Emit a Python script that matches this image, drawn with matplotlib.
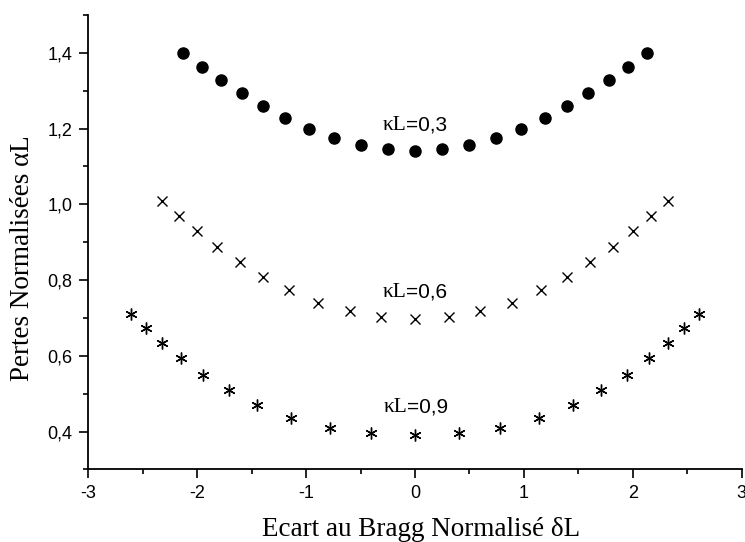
import numpy as np
import matplotlib
matplotlib.use('Agg')
import matplotlib.pyplot as plt
from matplotlib.ticker import MultipleLocator, FixedLocator

# kL = 0.3 (dots)
x_03 = [-2.13, -1.96, -1.78, -1.59, -1.40, -1.19, -0.97, -0.74, -0.50, -0.25, 0.0,
        0.25, 0.50, 0.74, 0.97, 1.19, 1.40, 1.59, 1.78, 1.96, 2.13]
y_03 = [1.400, 1.363, 1.329, 1.293, 1.259, 1.227, 1.198, 1.175, 1.157, 1.146, 1.140,
        1.146, 1.157, 1.175, 1.198, 1.227, 1.259, 1.293, 1.329, 1.363, 1.400]

# kL = 0.6 (crosses)
x_06 = [-2.32, -2.17, -2.00, -1.82, -1.61, -1.40, -1.16, -0.89, -0.60, -0.31, 0.0,
        0.31, 0.60, 0.89, 1.16, 1.40, 1.61, 1.82, 2.00, 2.17, 2.32]
y_06 = [1.008, 0.969, 0.929, 0.887, 0.848, 0.808, 0.773, 0.740, 0.718, 0.702, 0.698,
        0.702, 0.718, 0.740, 0.773, 0.808, 0.848, 0.887, 0.929, 0.969, 1.008]

# kL = 0.9 (asterisks)
x_09 = [-2.61, -2.47, -2.32, -2.15, -1.95, -1.71, -1.45, -1.14, -0.78, -0.40, 0.0,
        0.40, 0.78, 1.14, 1.45, 1.71, 1.95, 2.15, 2.32, 2.47, 2.61]
y_09 = [0.711, 0.673, 0.634, 0.593, 0.550, 0.510, 0.471, 0.436, 0.410, 0.396, 0.390,
        0.396, 0.410, 0.436, 0.471, 0.510, 0.550, 0.593, 0.634, 0.673, 0.711]

labels = ['0,3', '0,6', '0,9']
label_x = [-0.08, -0.08, -0.07]
label_y = [1.196, 0.755, 0.4515]

xticks = [-3, -2, -1, 0, 1, 2, 3]
yticks = [0.4, 0.6, 0.8, 1.0, 1.2, 1.4]

fig = plt.figure(figsize=(7.45, 5.42), dpi=100)
ax = fig.add_axes([0.1185, 0.134, 0.877, 0.8383])

ax.plot(x_03, y_03, 'o', color='black', markersize=8, linestyle='none')
ax.plot(x_06, y_06, 'x', color='black', markersize=7.5, markeredgewidth=1.0, linestyle='none')
ax.plot(x_09, y_09, marker=(6, 2, 0), color='black', markersize=8.5, markeredgewidth=1.0,
        linestyle='none')

for lx, ly, lab in zip(label_x, label_y, labels):
    ax.text(lx, ly, 'κL', family=['Liberation Serif'], fontsize=15.5, ha='right', va='baseline')
    ax.text(lx, ly, '=' + lab, family=['Liberation Sans'], fontsize=15, ha='left', va='baseline')

ax.set_xlim(-3, 3)
ax.set_ylim(0.3, 1.5)
ax.xaxis.set_major_locator(FixedLocator(xticks))
ax.xaxis.set_minor_locator(MultipleLocator(0.5))
ax.yaxis.set_major_locator(FixedLocator(yticks))
ax.yaxis.set_minor_locator(MultipleLocator(0.1))
ax.set_xticklabels([str(t) for t in xticks], family='Liberation Sans', fontsize=13)
ax.set_yticklabels([('%.1f' % t).replace('.', ',') for t in yticks], family='Liberation Sans', fontsize=13)

ax.tick_params(which='major', direction='out', length=6.5, width=1.2, pad=5)
ax.tick_params(which='minor', direction='out', length=3.6, width=1.2)

for s in ['top', 'right']:
    ax.spines[s].set_visible(False)
for s in ['left', 'bottom']:
    ax.spines[s].set_linewidth(1.3)

ax.set_xlabel('Ecart au Bragg Normalisé δL', family='Liberation Serif', fontsize=19.5)
ax.set_ylabel('Pertes Normalisées αL', family='Liberation Serif', fontsize=19.5)
ax.xaxis.set_label_coords(0.509, -0.105)
ax.yaxis.set_label_coords(-0.082, 0.466)

fig.savefig('out.png', dpi=100)
